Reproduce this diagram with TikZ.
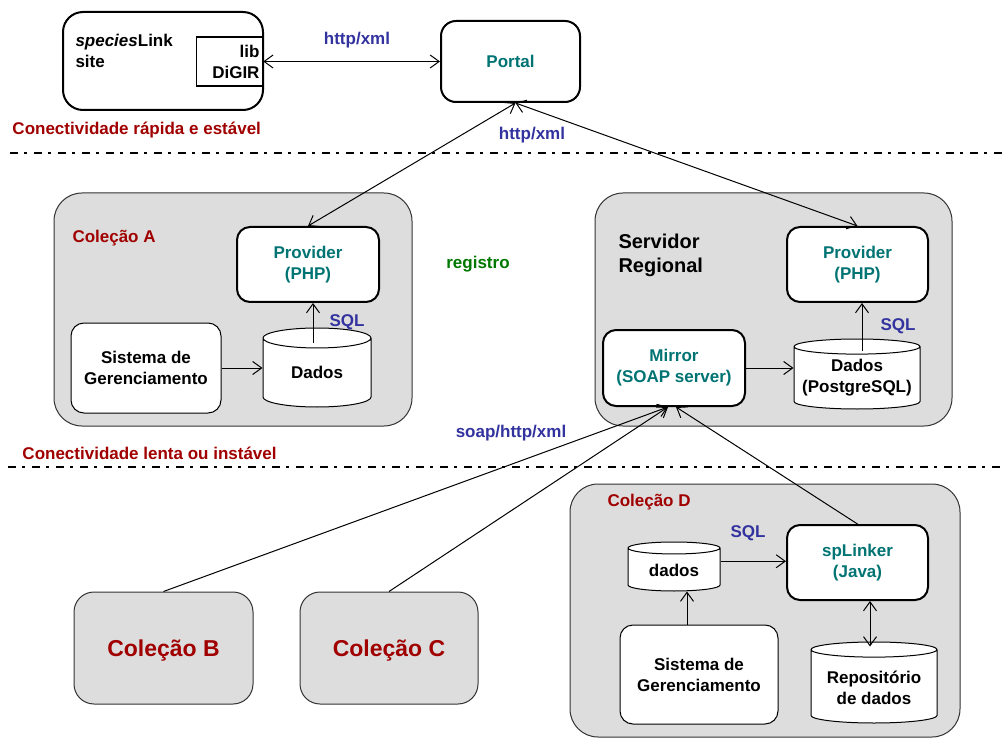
\documentclass[tikz,border=0pt]{standalone}
\usepackage{fontspec}
\setmainfont{Liberation Sans}
\usepackage{tikz}
\usetikzlibrary{positioning, arrows.meta, shapes.geometric}
\usepackage{xcolor}
\definecolor{vermelho}{RGB}{160,0,0}
\definecolor{azul}{RGB}{51,51,160}
\definecolor{verdeagua}{RGB}{0,115,115}
\definecolor{verde}{RGB}{0,120,0}
\definecolor{cinza}{RGB}{221,221,221}

\tikzset{
  txt/.style={font=\fontsize{17}{21}\selectfont\bfseries, align=center},
  grupo/.style={draw=black!80, fill=cinza, rounded corners=28pt, line width=1pt, inner sep=0pt},
  caixa/.style={draw, fill=white, rounded corners=13pt, line width=1pt, inner sep=0pt, txt},
  forte/.style={caixa, line width=2pt},
  banco/.style={draw, fill=white, cylinder, shape border rotate=90, aspect=0.185,
    anchor=shape center, line width=1pt, inner sep=0pt, text width=#1},
  rotulo/.style={txt, inner sep=0pt},
  divisa/.style={line width=2pt, dash pattern=on 8pt off 6pt on 3pt off 7pt},
}

\begin{document}
\begin{tikzpicture}[x=1pt, y=-1pt, line width=1pt,
  >={Straight Barb[length=9pt, width=13pt]}]
\useasboundingbox (0,0) rectangle (1002,738);

% areas
\node[grupo, minimum width=358, minimum height=233] (colA) at (233,309.5) {};
\node[grupo, minimum width=357, minimum height=233] (colR) at (773.5,309.5) {};
\node[grupo, minimum width=390, minimum height=253] (colD) at (765,610.5) {};
\node[grupo, rounded corners=20pt, minimum width=179, minimum height=112, text depth=0pt,
  font=\fontsize{23}{27}\selectfont\bfseries, text=vermelho] (colB) at (163.5,648) {Coleção B};
\node[grupo, rounded corners=20pt, minimum width=178, minimum height=112, text depth=0pt,
  font=\fontsize{23}{27}\selectfont\bfseries, text=vermelho] (colC) at (389,648) {Coleção C};

% topo
\node[caixa, line width=2pt, rounded corners=20pt, minimum width=200, minimum height=98] (site) at (163,61) {};
\node[rotulo, anchor=west, align=left] (sitetxt) at (75,51) {\textit{species}Link\\site};
\node[draw, line width=1.5pt, txt, align=right, text width=60pt, inner sep=3pt,
  minimum height=49] (lib) at (229.5,61.5) {lib\\DiGIR};
\node[forte, rounded corners=15pt, minimum width=139, minimum height=81, text=verdeagua] (portal) at (510.5,61.5) {Portal};

\node[rotulo, text=vermelho, anchor=west] (rapida) at (12,130) {Conectividade rápida e estável};
\node[rotulo, text=vermelho, anchor=west] (lenta) at (22,453) {Conectividade lenta ou instável};
\draw[divisa] (10,153) -- (1002,153);
\draw[divisa] (8,467) -- (1002,467);

% colecao A
\node[rotulo, text=vermelho, anchor=west] (nomeA) at (72,238) {Coleção A};
\node[forte, minimum width=142, minimum height=75, text=verdeagua] (provA) at (308,264.5) {Provider\\(PHP)};
\node[caixa, minimum width=150, minimum height=90] (sistA) at (146,368) {Sistema de\\Gerenciamento};
\node[banco=108pt, minimum height=79] (dadosA) at (317,367.5) {};
\node[rotulo] (dadosAtxt) at ([yshift=-4.5pt]dadosA.shape center) {Dados};

% servidor regional
\node[rotulo, anchor=west, align=left, font=\fontsize{20}{24}\selectfont\bfseries] (nomeR) at (618,255) {Servidor\\Regional};
\node[forte, minimum width=141, minimum height=75, text=verdeagua] (provR) at (857.5,264.5) {Provider\\(PHP)};
\node[forte, minimum width=142, minimum height=76, text=verdeagua] (mirror) at (674,368) {Mirror\\(SOAP server)};
\node[banco=126pt, aspect=0.12, minimum height=70] (dadosR) at (857,374) {};
\node[rotulo] (dadosRtxt) at ([yshift=-4pt]dadosR.shape center) {Dados\\(PostgreSQL)};

% colecao D
\node[rotulo, text=vermelho, anchor=west] (nomeD) at (607,502) {Coleção D};
\node[banco=92pt, aspect=0.13, minimum height=49] (dadosD) at (674,566.5) {};
\node[rotulo] (dadosDtxt) at ([yshift=-3.5pt]dadosD.shape center) {dados};
\node[forte, minimum width=141, minimum height=75, text=verdeagua] (splinker) at (857.5,562.5) {spLinker\\(Java)};
\node[caixa, minimum width=158, minimum height=99] (sistD) at (699,674.5) {Sistema de\\Gerenciamento};
\node[banco=126pt, aspect=0.12, minimum height=81] (repo) at (874,682.5) {};
\node[rotulo] (repotxt) at ([yshift=-5.5pt]repo.shape center) {Repositório\\de dados};

% rotulos das ligacoes
\node[rotulo, text=azul] (http1) at (357,40) {http/xml};
\node[rotulo, text=azul] (http2) at (532,135) {http/xml};
\node[rotulo, text=verde] (registro) at (478,264) {registro};
\node[rotulo, text=azul] (soap) at (511,433) {soap/http/xml};
\node[rotulo, text=azul] (sqlA) at (347,322) {SQL};
\node[rotulo, text=azul] (sqlR) at (898,326) {SQL};
\node[rotulo, text=azul] (sqlD) at (748,533) {SQL};

% ligacoes
\draw[<->] (lib.east) -- (portal.west);
\draw[<->] ([xshift=5pt]portal.south) -- (provA.north);
\draw[<->] ([xshift=5pt]portal.south) -- (provR.north);
\draw[->] (sistA.east) -- (sistA.east -| dadosA.west);
\draw[->] ([xshift=-4pt,yshift=-15pt]dadosA.north) coordinate (a1) -- (a1 |- provA.south);
\draw[->] (mirror.east) -- (mirror.east -| dadosR.west);
\draw[->] ([xshift=5pt,yshift=-12pt]dadosR.north) coordinate (r1) -- (r1 |- provR.south);
\draw[->] ([yshift=8.5pt]dadosD.east) coordinate (d1) -- (d1 -| splinker.west);
\draw[->] ([xshift=-12pt]sistD.north) coordinate (d2) -- (d2 |- dadosD.south);
\draw[<->] ([xshift=12.5pt]splinker.south) coordinate (d3) -- ([yshift=-5pt]d3 |- repo.north);
\draw[->] (colB.north) -- ([xshift=-6pt]mirror.south);
\draw[->] (colC.north) -- ([xshift=-6pt]mirror.south);
\draw[->] (splinker.north) -- ([xshift=2pt]mirror.south);
\end{tikzpicture}
\end{document}
